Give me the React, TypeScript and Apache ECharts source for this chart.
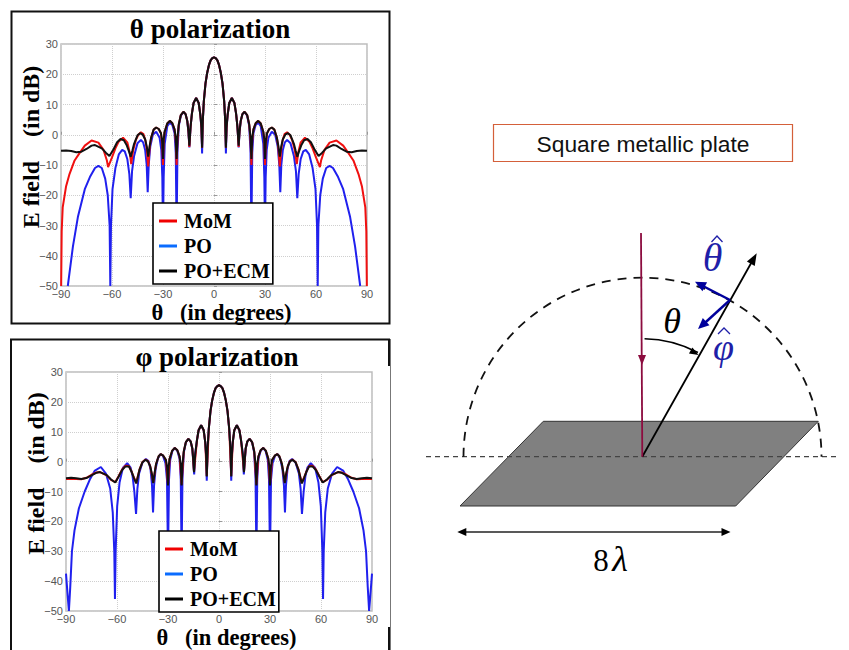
import React, { useEffect, useRef } from "react";
import * as echarts from "echarts";

type Pt = [number, number];

const seriesNames = ["MoM", "PO", "PO+ECM"];
const xTicks = { min: -90, max: 90, step: 30 };
const yTicks = { min: -50, max: 30, step: 10 };

const thetaPolBlack: Pt[] = [[-90,-5.3],[-87,-5.2],[-84,-5.4],[-81,-5.8],[-78,-5.6],[-75,-4.7],[-72,-3.6],[-70,-3.4],[-66,-4.5],[-63.5,-6],[-61.5,-7],[-59,-4.7],[-57,-2.5],[-55,-1.4],[-53,-1.8],[-51.5,-3.3],[-50,-5.5],[-49,-7.3],[-48,-5.2],[-47,-3],[-45,-0.2],[-43.5,0.5],[-42,0.1],[-40.5,-1.5],[-39.5,-4],[-38.7,-7.2],[-37.8,-3.5],[-37,-1],[-35.5,1.7],[-34,2.4],[-32.5,1.9],[-31.2,0.5],[-30.5,-2],[-30,-8],[-29.6,-1.5],[-29,1],[-27.5,3.7],[-26,4.6],[-24.5,3.8],[-23.2,1.8],[-22.5,-1],[-22,-8],[-21.5,-1],[-20.7,3.5],[-19.5,6.5],[-18,7.6],[-16.7,6.8],[-15.7,4.5],[-15,1],[-14.5,-3.6],[-13.8,2.5],[-13,7],[-12,10.5],[-10.5,12.2],[-9,10.5],[-8,6.5],[-7.4,2.5],[-7,-4.3],[-6.6,4.5],[-6,11],[-5,17],[-4,20.5],[-3,23],[-2,24.6],[-1,25.3],[0,25.6],[1,25.3],[2,24.6],[3,23],[4,20.5],[5,17],[6,11],[6.6,4.5],[7,-4.3],[7.4,2.5],[8,6.5],[9,10.5],[10.5,12.2],[12,10.5],[13,7],[13.8,2.5],[14.5,-3.6],[15,1],[15.7,4.5],[16.7,6.8],[18,7.6],[19.5,6.5],[20.7,3.5],[21.5,-1],[22,-8],[22.5,-1],[23.2,1.8],[24.5,3.8],[26,4.6],[27.5,3.7],[29,1],[29.6,-1.5],[30,-8],[30.5,-2],[31.2,0.5],[32.5,1.9],[34,2.4],[35.5,1.7],[37,-1],[37.8,-3.5],[38.7,-7.2],[39.5,-4],[40.5,-1.5],[42,0.1],[43.5,0.5],[45,-0.2],[47,-3],[48,-5.2],[49,-7.3],[50,-5.5],[51.5,-3.3],[53,-1.8],[55,-1.4],[57,-2.5],[59,-4.7],[61.5,-7],[63.5,-6],[66,-4.5],[70,-3.4],[72,-3.6],[75,-4.7],[78,-5.6],[81,-5.8],[84,-5.4],[87,-5.2],[90,-5.3]];

const thetaPolRed: Pt[] = [[-89.9,-50],[-89.6,-32],[-89,-24],[-87,-17],[-85,-13],[-82,-8.5],[-79,-6],[-76,-3.6],[-72,-1.9],[-68,-2.6],[-65,-5],[-63,-8.5],[-62.3,-10.7],[-60,-7.5],[-58,-4.5],[-56,-2.2],[-53.5,-1],[-51,-2.5],[-49.5,-6],[-48.7,-9.7],[-47.5,-5],[-46,-1.8],[-44.5,0],[-43,0.8],[-41.5,0.2],[-40.3,-2],[-39.5,-5],[-38.7,-10.5],[-37.8,-4],[-37,-1],[-35.5,1.7],[-34,2.4],[-32.5,1.9],[-31.2,0.5],[-30.5,-3],[-30,-10],[-29.6,-2],[-29,1],[-27.5,3.7],[-26,4.6],[-24.5,3.8],[-23.2,1.8],[-22.5,-2],[-22,-10],[-21.5,-2],[-20.7,3.5],[-19.5,6.5],[-18,7.6],[-16.7,6.8],[-15.7,4.5],[-15,1],[-14.5,-4],[-13.8,2.5],[-13,7],[-12,10.5],[-10.5,12.2],[-9,10.5],[-8,6.5],[-7.4,2.5],[-7,-4.3],[-6.6,4.5],[-6,11],[-5,17],[-4,20.5],[-3,23],[-2,24.6],[-1,25.3],[0,25.6],[1,25.3],[2,24.6],[3,23],[4,20.5],[5,17],[6,11],[6.6,4.5],[7,-4.3],[7.4,2.5],[8,6.5],[9,10.5],[10.5,12.2],[12,10.5],[13,7],[13.8,2.5],[14.5,-4],[15,1],[15.7,4.5],[16.7,6.8],[18,7.6],[19.5,6.5],[20.7,3.5],[21.5,-2],[22,-10],[22.5,-2],[23.2,1.8],[24.5,3.8],[26,4.6],[27.5,3.7],[29,1],[29.6,-2],[30,-10],[30.5,-3],[31.2,0.5],[32.5,1.9],[34,2.4],[35.5,1.7],[37,-1],[37.8,-4],[38.7,-10.5],[39.5,-5],[40.3,-2],[41.5,0.2],[43,0.8],[44.5,0],[46,-1.8],[47.5,-5],[48.7,-9.7],[49.5,-6],[51,-2.5],[53.5,-1],[56,-2.2],[58,-4.5],[60,-7.5],[62.3,-10.7],[63,-8.5],[65,-5],[68,-2.6],[72,-1.9],[76,-3.6],[79,-6],[82,-8.5],[85,-13],[87,-17],[89,-24],[89.6,-32],[89.9,-50]];

const thetaPolBlue: Pt[] = [[-86,-50],[-83,-37],[-80,-27],[-76,-18],[-73,-14],[-70,-11],[-68,-10.3],[-66,-11],[-64,-14.5],[-62.5,-20],[-61.4,-30],[-61,-50],[-60.6,-30],[-59.7,-18],[-58,-11],[-56,-6.5],[-54,-5],[-52.5,-5.5],[-51,-8],[-49.8,-13],[-49,-21],[-48.2,-12],[-47,-7],[-45,-2.8],[-43,-1.7],[-41.7,-2.5],[-40.5,-5],[-39.6,-10],[-39,-19],[-38.4,-10],[-37.5,-4],[-36,0],[-34,1],[-32,-1],[-31,-5],[-30.4,-14],[-30,-32],[-29.6,-14],[-29,-3],[-27.5,2.8],[-26,4],[-24.5,3.2],[-23.2,0.5],[-22.5,-6],[-22,-32],[-21.5,-6],[-20.7,3],[-19.5,6.3],[-18,7.5],[-16.7,6.8],[-15.7,4.5],[-15,0.5],[-14.5,-4.2],[-13.8,2.5],[-13,7],[-12,10.5],[-10.5,12.2],[-9,10.5],[-8,6.5],[-7.4,2],[-7,-6.2],[-6.6,4.5],[-6,11],[-5,17],[-4,20.5],[-3,23],[-2,24.6],[-1,25.3],[0,25.6],[1,25.3],[2,24.6],[3,23],[4,20.5],[5,17],[6,11],[6.6,4.5],[7,-6.2],[7.4,2],[8,6.5],[9,10.5],[10.5,12.2],[12,10.5],[13,7],[13.8,2.5],[14.5,-4.2],[15,0.5],[15.7,4.5],[16.7,6.8],[18,7.5],[19.5,6.3],[20.7,3],[21.5,-6],[22,-32],[22.5,-6],[23.2,0.5],[24.5,3.2],[26,4],[27.5,2.8],[29,-3],[29.6,-14],[30,-32],[30.4,-14],[31,-5],[32,-1],[34,1],[36,0],[37.5,-4],[38.4,-10],[39,-19],[39.6,-10],[40.5,-5],[41.7,-2.5],[43,-1.7],[45,-2.8],[47,-7],[48.2,-12],[49,-21],[49.8,-13],[51,-8],[52.5,-5.5],[54,-5],[56,-6.5],[58,-11],[59.7,-18],[60.6,-30],[61,-50],[61.4,-30],[62.5,-20],[64,-14.5],[66,-11],[68,-10.3],[70,-11],[73,-14],[76,-18],[80,-27],[83,-37],[86,-50]];

const phiPolBlack: Pt[] = [[-90,-5.6],[-87,-5.4],[-84,-5.6],[-81,-5.8],[-78,-5.5],[-75,-4.6],[-72,-3.7],[-70,-3.5],[-66,-4.5],[-63.5,-6],[-61,-7],[-59,-5],[-57,-2.8],[-55,-1.6],[-53,-1.6],[-51.5,-3.3],[-50,-5.5],[-48.7,-7.3],[-47.8,-5.2],[-46.8,-2.8],[-45,-0.2],[-43.2,0.6],[-41.8,0.1],[-40.5,-1.5],[-39.5,-4],[-38.7,-7.2],[-37.8,-3.5],[-37,-0.8],[-35.5,1.8],[-34.3,2.5],[-32.8,2],[-31.2,0.5],[-30.5,-2],[-30,-8],[-29.6,-1.5],[-29,1],[-27.5,3.7],[-26,4.6],[-24.5,3.8],[-23.2,1.8],[-22.5,-1],[-22,-8],[-21.5,-1],[-20.7,3.5],[-19.5,6.5],[-18,7.6],[-16.7,6.8],[-15.7,4.5],[-15.2,1],[-14.7,-3.5],[-14,2.5],[-13,7],[-12,10.5],[-10.5,12.2],[-9,10.5],[-8.1,6.5],[-7.6,2.5],[-7.2,-5],[-6.7,4.5],[-6,11],[-5,17],[-4,20.5],[-3,23],[-2,24.6],[-1,25.3],[0,25.6],[1,25.3],[2,24.6],[3,23],[4,20.5],[5,17],[6,11],[6.7,4.5],[7.2,-5],[7.6,2.5],[8.1,6.5],[9,10.5],[10.5,12.2],[12,10.5],[13,7],[14,2.5],[14.7,-3.5],[15.2,1],[15.7,4.5],[16.7,6.8],[18,7.6],[19.5,6.5],[20.7,3.5],[21.5,-1],[22,-8],[22.5,-1],[23.2,1.8],[24.5,3.8],[26,4.6],[27.5,3.7],[29,1],[29.6,-1.5],[30,-8],[30.5,-2],[31.2,0.5],[32.8,2],[34.3,2.5],[35.5,1.8],[37,-0.8],[37.8,-3.5],[38.7,-7.2],[39.5,-4],[40.5,-1.5],[41.8,0.1],[43.2,0.6],[45,-0.2],[46.8,-2.8],[47.8,-5.2],[48.7,-7.3],[50,-5.5],[51.5,-3.3],[53,-1.6],[55,-1.6],[57,-2.8],[59,-5],[61,-7],[63.5,-6],[66,-4.5],[70,-3.5],[72,-3.7],[75,-4.6],[78,-5.5],[81,-5.8],[84,-5.6],[87,-5.4],[90,-5.6]];

const phiPolRed: Pt[] = [[-90,-5.8],[-87,-5.7],[-84,-5.8],[-81,-5.9],[-78,-5.4],[-75,-4.4],[-72,-3.6],[-70,-3.5],[-66,-4.6],[-63.5,-6.1],[-61,-6.9],[-59,-4.8],[-57,-2.6],[-55,-1.4],[-53,-1.5],[-51.5,-3.2],[-50,-5.4],[-48.7,-7.1],[-46.8,-2.7],[-45,-0.1],[-43.2,0.7],[-41.8,0.2],[-40.5,-1.4],[-38.7,-7],[-37,-0.7],[-35.5,1.8],[-34.3,2.5],[-32.8,2],[-31.2,0.5],[-30,-7.6],[-29,1],[-27.5,3.7],[-26,4.6],[-24.5,3.8],[-23.2,1.8],[-22,-7.6],[-20.7,3.5],[-19.5,6.5],[-18,7.6],[-16.7,6.8],[-15.7,4.5],[-14.7,-3.4],[-13,7],[-12,10.5],[-10.5,12.2],[-9,10.5],[-8.1,6.5],[-7.2,-4.8],[-6,11],[-5,17],[-4,20.5],[-3,23],[-2,24.6],[-1,25.3],[0,25.6],[1,25.3],[2,24.6],[3,23],[4,20.5],[5,17],[6,11],[7.2,-4.8],[8.1,6.5],[9,10.5],[10.5,12.2],[12,10.5],[13,7],[14.7,-3.4],[15.7,4.5],[16.7,6.8],[18,7.6],[19.5,6.5],[20.7,3.5],[22,-7.6],[23.2,1.8],[24.5,3.8],[26,4.6],[27.5,3.7],[29,1],[30,-7.6],[31.2,0.5],[32.8,2],[34.3,2.5],[35.5,1.8],[37,-0.7],[38.7,-7],[40.5,-1.4],[41.8,0.2],[43.2,0.7],[45,-0.1],[46.8,-2.7],[48.7,-7.1],[50,-5.4],[51.5,-3.2],[53,-1.5],[55,-1.4],[57,-2.6],[59,-4.8],[61,-6.9],[63.5,-6.1],[66,-4.6],[70,-3.5],[72,-3.6],[75,-4.4],[78,-5.4],[81,-5.9],[84,-5.8],[87,-5.7],[90,-5.8]];

const phiPolBlue: Pt[] = [[-90,-37.5],[-89,-45],[-88.3,-50],[-87.5,-42],[-86.5,-30],[-85,-23],[-82.4,-15.6],[-79,-10],[-76,-6],[-73,-3],[-69.5,-1.8],[-66.5,-4],[-64,-9],[-62.5,-17],[-61.6,-30],[-61.2,-46],[-60.8,-30],[-59.9,-15],[-58.5,-7],[-56.5,-2],[-54,-0.5],[-52,-2],[-50.8,-5],[-49.8,-10],[-48.8,-17.5],[-48,-9],[-47,-4],[-45,-0.3],[-43,0.9],[-41.5,0.2],[-40.3,-2.5],[-39.4,-8],[-38.8,-17],[-38.2,-8],[-37.3,-2.5],[-36,1],[-34.5,2.5],[-33,2],[-31.5,-0.5],[-30.6,-6],[-30,-32],[-29.4,-6],[-28.7,0.5],[-27.5,3.4],[-26,4.6],[-24.5,3.6],[-23.2,1],[-22.5,-6],[-22,-32],[-21.5,-6],[-20.7,3],[-19.5,6.4],[-18,7.6],[-16.7,6.8],[-15.7,4.3],[-15.2,0.5],[-14.6,-4.3],[-14,2.5],[-13,7],[-12,10.5],[-10.5,12.2],[-9,10.5],[-8.1,6.5],[-7.6,2],[-7.2,-6.4],[-6.7,4.5],[-6,11],[-5,17],[-4,20.5],[-3,23],[-2,24.6],[-1,25.3],[0,25.6],[1,25.3],[2,24.6],[3,23],[4,20.5],[5,17],[6,11],[6.7,4.5],[7.2,-6.4],[7.6,2],[8.1,6.5],[9,10.5],[10.5,12.2],[12,10.5],[13,7],[14,2.5],[14.6,-4.3],[15.2,0.5],[15.7,4.3],[16.7,6.8],[18,7.6],[19.5,6.4],[20.7,3],[21.5,-6],[22,-32],[22.5,-6],[23.2,1],[24.5,3.6],[26,4.6],[27.5,3.4],[28.7,0.5],[29.4,-6],[30,-32],[30.6,-6],[31.5,-0.5],[33,2],[34.5,2.5],[36,1],[37.3,-2.5],[38.2,-8],[38.8,-17],[39.4,-8],[40.3,-2.5],[41.5,0.2],[43,0.9],[45,-0.3],[47,-4],[48,-9],[48.8,-17.5],[49.8,-10],[50.8,-5],[52,-2],[54,-0.5],[56.5,-2],[58.5,-7],[59.9,-15],[60.8,-30],[61.2,-46],[61.6,-30],[62.5,-17],[64,-9],[66.5,-4],[69.5,-1.8],[73,-3],[76,-6],[79,-10],[82.4,-15.6],[85,-23],[86.5,-30],[87.5,-42],[88.3,-50],[89,-45],[90,-37.5]];

const SERIF = '"Liberation Serif", serif';
const SANS = '"Liberation Sans", Arial, sans-serif';
const SCHEMA_BLUE = "#00009c";
const HAT_BLUE = "#1f1fa8";
const WINE = "#8c0c3f";

function head(tipX: number, tipY: number, fromX: number, fromY: number, len: number, half: number, color: string) {
  const a = Math.atan2(tipY - fromY, tipX - fromX);
  const bx = tipX - len * Math.cos(a);
  const by = tipY - len * Math.sin(a);
  const nx = -Math.sin(a) * half;
  const ny = Math.cos(a) * half;
  return {
    type: "polygon",
    silent: true,
    shape: { points: [[tipX, tipY], [bx + nx, by + ny], [bx - nx, by - ny]] },
    style: { fill: color },
  };
}
function seg(x1: number, y1: number, x2: number, y2: number, stroke: string, lineWidth: number, lineDash?: number[]) {
  return { type: "line", silent: true, shape: { x1, y1, x2, y2 }, style: { stroke, lineWidth, lineDash } };
}
function label(text: string, x: number, y: number, font: string, fill = "#000") {
  return { type: "text", silent: true, x, y, style: { text, font, fill, textAlign: "center", textVerticalAlign: "middle" } };
}
function hat(x: number, y: number, halfWidth: number, height: number) {
  return {
    type: "polyline",
    silent: true,
    shape: { points: [[x - halfWidth, y + height], [x, y], [x + halfWidth, y + height]] },
    style: { fill: "none", stroke: HAT_BLUE, lineWidth: 1.3 },
  };
}

const panelBorders = [
  { type: "rect", silent: true, shape: { x: 11.5, y: 11.5, width: 378, height: 312 }, style: { fill: "none", stroke: "#111", lineWidth: 2 } },
  seg(11, 339, 11, 650, "#111", 2),
  seg(10, 339.5, 390, 339.5, "#111", 2),
  seg(389, 339, 389, 366, "#111", 2),
  seg(390.5, 339, 390.5, 650, "#777", 1),
  seg(389, 627, 389, 650, "#111", 2),
];

const diagram = [
  { type: "rect", silent: true, shape: { x: 493.5, y: 124.5, width: 299, height: 37 }, style: { fill: "#fff", stroke: "#d4603a", lineWidth: 1.2 } },
  label("Square metallic plate", 643, 143.5, `22.8px ${SANS}`, "#111"),
  { type: "polygon", silent: true, shape: { points: [[543.3, 421.3], [818.3, 421.3], [735.7, 506], [460, 506]] }, style: { fill: "#808080", stroke: "#333", lineWidth: 1 } },
  seg(426, 456.7, 840, 456.7, "#444", 1.2, [5, 4]),
  { type: "arc", silent: true, shape: { cx: 642.5, cy: 456.7, r: 179, startAngle: Math.PI, endAngle: 2 * Math.PI, clockwise: true }, style: { fill: "none", stroke: "#111", lineWidth: 1.8, lineDash: [9, 7] } },
  seg(642.3, 456.7, 754, 258, "#000", 1.8),
  head(756.7, 253.3, 642.3, 456.7, 12, 4.5, "#000"),
  seg(641, 233, 642.3, 456.7, WINE, 1.8),
  head(642, 365, 642, 355, 10, 4, WINE),
  seg(730, 300, 700, 284.5, SCHEMA_BLUE, 2.4),
  head(695, 281.7, 730, 300, 11, 5, SCHEMA_BLUE),
  seg(730, 300, 702, 325.5, SCHEMA_BLUE, 2.4),
  head(698, 329, 730, 300, 11, 5, SCHEMA_BLUE),
  { type: "arc", silent: true, shape: { cx: 642.5, cy: 456.7, r: 118, startAngle: (-89 * Math.PI) / 180, endAngle: (-62 * Math.PI) / 180, clockwise: true }, style: { fill: "none", stroke: "#000", lineWidth: 1.5 } },
  head(698.5, 355, 688, 349, 9, 3.5, "#000"),
  seg(462, 532, 726, 532, "#222", 1.4),
  head(457.3, 532, 470, 532, 9, 4, "#000"),
  head(730.5, 532, 718, 532, 9, 4, "#000"),
  label("θ", 672, 321, `italic 36px ${SERIF}`),
  label("θ", 712.5, 257, `italic 40px ${SERIF}`, HAT_BLUE),
  hat(717, 236, 5.5, 6),
  label("φ", 723.5, 347, `italic 38px ${SERIF}`, HAT_BLUE),
  hat(724, 328, 6, 6),
  label("8", 601, 560, `31px ${SERIF}`),
  label("λ", 620, 559, `italic 36px ${SERIF}`),
];

function panelGrid(left: number, top: number) {
  return { left, top, width: 306, height: top === 44 ? 242 : 241.5, show: true, borderColor: "#bdbdbd", borderWidth: 1.5, backgroundColor: "#fff" };
}
const minusFix = (v: number) => String(v).replace("-", "−");
const axisLabelBase = { color: "#555", fontFamily: SANS, fontSize: 11, formatter: minusFix };
const splitDots = { show: true, lineStyle: { color: "#cfcfcf", type: "dotted" as const, width: 1 } };

function xAxisFor(gridIndex: number, name: string) {
  return {
    gridIndex, type: "value", min: xTicks.min, max: xTicks.max, interval: xTicks.step,
    name, nameLocation: "middle", nameGap: 15, nameMoveOverlap: false,
    nameTextStyle: { color: "#000", fontFamily: SERIF, fontWeight: "bold", fontSize: 22.5, padding: [0, 0, 0, 15] },
    axisLine: { show: false },
    axisTick: { inside: true, length: 3, lineStyle: { color: "#999" } },
    axisLabel: { ...axisLabelBase, margin: 2, showMinLabel: true, showMaxLabel: true },
    splitLine: splitDots,
  };
}
function yAxisFor(gridIndex: number, name: string) {
  return {
    gridIndex, type: "value", min: yTicks.min, max: yTicks.max, interval: yTicks.step,
    name, nameLocation: "middle", nameGap: 18, nameRotate: 90, nameMoveOverlap: false,
    nameTextStyle: { color: "#000", fontFamily: SERIF, fontWeight: "bold", fontSize: 24, padding: [0, 0, 0, 36] },
    axisLine: { show: false },
    axisTick: { inside: true, length: 3, lineStyle: { color: "#999" } },
    axisLabel: { ...axisLabelBase, margin: 3 },
    splitLine: splitDots,
  };
}
function lineSeries(name: string, data: Pt[], color: string, idx: number, z: number) {
  return { name, type: "line", data, xAxisIndex: idx, yAxisIndex: idx, showSymbol: false, symbol: "none", z, clip: true, lineStyle: { color, width: 2 }, itemStyle: { color } };
}
function legendFor(left: number, top: number) {
  const item = (name: string, color: string) => ({ name, icon: "rect", itemStyle: { color } });
  return {
    left, top, orient: "vertical", selectedMode: false, backgroundColor: "#fff",
    borderColor: "#000", borderWidth: 1.6, borderRadius: 0,
    padding: [8, 3, 3, 6], itemWidth: 18, itemHeight: 3, itemGap: 5,
    textStyle: { fontFamily: SERIF, fontWeight: "bold", fontSize: 20, color: "#000", padding: [0, 0, 0, 2] },
    data: [item(seriesNames[0], "#f00000"), item(seriesNames[1], "#0a6cff"), item(seriesNames[2], "#000")],
  };
}

export default function App() {
  const ref = useRef<HTMLDivElement>(null);
  useEffect(() => {
    const chart = echarts.init(ref.current!, undefined, { renderer: "svg" });
    chart.setOption({
      animation: false,
      backgroundColor: "#fff",
      title: [
        { text: "θ polarization", left: 205, top: 10, textAlign: "center", textStyle: { fontFamily: SERIF, fontWeight: "bold", fontSize: 27, color: "#000" } },
        { text: "φ polarization", left: 212, top: 338, textAlign: "center", textStyle: { fontFamily: SERIF, fontWeight: "bold", fontSize: 27, color: "#000" } },
      ],
      grid: [panelGrid(61, 44), panelGrid(66, 372)],
      xAxis: [xAxisFor(0, "θ\u00a0\u00a0\u00a0(in degrees)"), xAxisFor(1, "θ\u00a0\u00a0\u00a0(in degrees)")],
      yAxis: [yAxisFor(0, "E field\u00a0\u00a0\u00a0\u00a0(in dB)"), yAxisFor(1, "E field\u00a0\u00a0\u00a0\u00a0(in dB)")],
      legend: [legendFor(153, 203), legendFor(159, 531)],
      series: [
        lineSeries(seriesNames[1], thetaPolBlue, "#2020ee", 0, 2),
        lineSeries(seriesNames[0], thetaPolRed, "#f01010", 0, 3),
        lineSeries(seriesNames[2], thetaPolBlack, "#111", 0, 4),
        lineSeries(seriesNames[1], phiPolBlue, "#2020ee", 1, 2),
        lineSeries(seriesNames[0], phiPolRed, "#f01010", 1, 3),
        lineSeries(seriesNames[2], phiPolBlack, "#111", 1, 4),
      ],
      graphic: { elements: [...panelBorders, ...diagram] },
    });
    return () => chart.dispose();
  }, []);
  return <div ref={ref} style={{ position: "absolute", left: 0, top: 0, width: 849, height: 650 }} />;
}
